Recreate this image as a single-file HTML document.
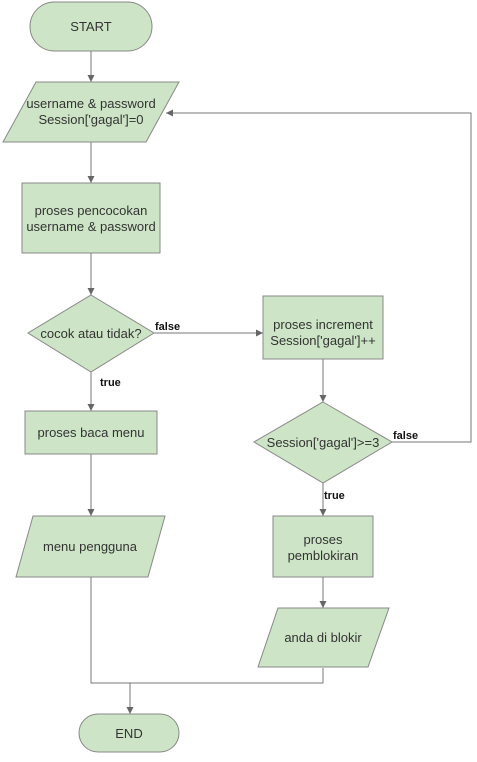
<!DOCTYPE html>
<html><head><style>body{margin:0;background:#fff}svg text{font-family:"Liberation Sans",sans-serif;font-size:13px;fill:#333}</style></head><body>
<svg width="477" height="757" xmlns="http://www.w3.org/2000/svg">
<defs><marker id="a" markerWidth="8" markerHeight="8" refX="7" refY="4" orient="auto" markerUnits="userSpaceOnUse"><path d="M0,0.5 L7,4 L0,7.5 Z" fill="#666"/></marker></defs>
<g fill="none" stroke="#777" stroke-width="1">
<line x1="91" y1="51" x2="91" y2="82" marker-end="url(#a)"/>
<line x1="91" y1="142" x2="91" y2="183" marker-end="url(#a)"/>
<line x1="91" y1="253" x2="91" y2="295" marker-end="url(#a)"/>
<line x1="154" y1="333" x2="263" y2="333" marker-end="url(#a)"/>
<line x1="91" y1="372" x2="91" y2="411" marker-end="url(#a)"/>
<line x1="91" y1="454" x2="91" y2="516" marker-end="url(#a)"/>
<polyline points="91,577 91,683 323,683 323,668"/>
<line x1="130" y1="683" x2="130" y2="714" marker-end="url(#a)"/>
<line x1="323" y1="359" x2="323" y2="402" marker-end="url(#a)"/>
<polyline points="392,442 471,442 471,113 166,113" marker-end="url(#a)"/>
<line x1="323" y1="483" x2="323" y2="516" marker-end="url(#a)"/>
<line x1="323" y1="577" x2="323" y2="608" marker-end="url(#a)"/>
</g>
<g fill="#cde5c6" stroke="#888" stroke-width="1">
<rect x="30" y="2" width="122" height="49" rx="24.5"/>
<polygon points="36,82 179,82 146,142 3,142"/>
<rect x="22" y="183" width="138" height="70"/>
<polygon points="91,295 154,333 91,372 28,333"/>
<rect x="25" y="411" width="132" height="43"/>
<polygon points="33,516 165,516 148,577 16,577"/>
<rect x="79" y="714" width="100" height="38" rx="19"/>
<rect x="263" y="296" width="120" height="63"/>
<polygon points="323,402 392,442 323,483 254,442"/>
<rect x="273" y="516" width="100" height="61"/>
<polygon points="278,608 389,608 368,667 258,667"/>
</g>
<g text-anchor="middle">
<text x="91" y="108">username &amp; password</text>
<text x="91" y="31">START</text>
<text x="91" y="124">Session['gagal']=0</text>
<text x="91" y="215">proses pencocokan</text>
<text x="91" y="231">username &amp; password</text>
<text x="91" y="338">cocok atau tidak?</text>
<text x="91" y="437">proses baca menu</text>
<text x="90" y="551">menu pengguna</text>
<text x="129" y="738">END</text>
<text x="323" y="329">proses increment</text>
<text x="323" y="345">Session['gagal']++</text>
<text x="323" y="447">Session['gagal']&gt;=3</text>
<text x="323" y="544">proses</text>
<text x="323" y="560">pemblokiran</text>
<text x="323" y="642">anda di blokir</text>
</g>
<text x="155" y="330" style="font-size:11px;font-weight:bold;fill:#111">false</text>
<text x="100" y="386" style="font-size:11px;font-weight:bold;fill:#111">true</text>
<text x="393" y="439" style="font-size:11px;font-weight:bold;fill:#111">false</text>
<text x="324" y="499" style="font-size:11px;font-weight:bold;fill:#111">true</text>
</svg>
</body></html>
